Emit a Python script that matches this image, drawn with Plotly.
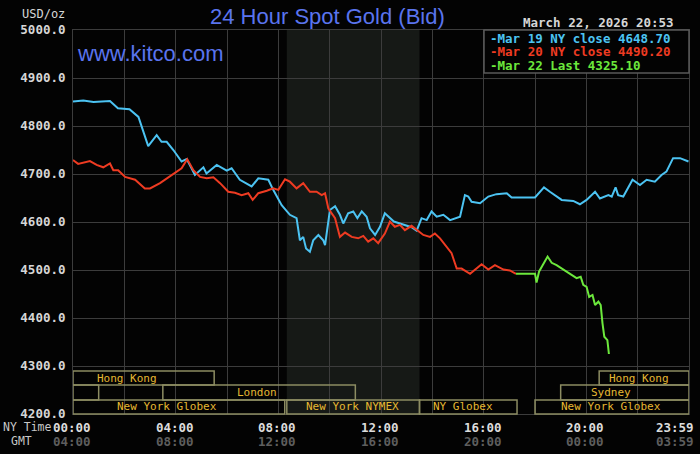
import plotly.graph_objects as go

# hours since 00:00 NY time and bid prices (USD/oz)
blue_h = [0, 0.4, 0.8, 1.2, 1.44, 1.75, 2.2, 2.55, 2.93, 3.26, 3.45, 3.65, 3.91, 4.23, 4.43,
          4.75, 5.08, 5.2, 5.6, 5.99, 6.18, 6.5, 6.96, 7.22, 7.61, 7.8, 8.13, 8.45, 8.71, 8.84,
          8.97, 9.08, 9.23, 9.36, 9.56, 9.75, 9.82, 10.01, 10.21, 10.4, 10.53, 10.72, 10.92, 11.08,
          11.25, 11.44, 11.57, 11.77, 11.96, 12.15, 12.35, 12.5, 12.74, 13.0, 13.19, 13.39, 13.58,
          13.78, 13.97, 14.17, 14.43, 14.69, 14.95, 15.08, 15.27, 15.4, 15.53, 15.86, 16.18, 16.5,
          16.9, 17.09, 18.0, 18.35, 18.58, 19.04, 19.49, 19.75, 20.01, 20.34, 20.53, 20.86, 20.99,
          21.14, 21.24, 21.44, 21.8, 22.09, 22.35, 22.67, 22.93, 23.12, 23.38, 23.65, 23.98]
blue_v = [4851, 4853, 4850, 4852, 4852, 4837, 4835, 4819, 4758, 4781, 4767, 4767, 4750, 4726, 4731,
          4698, 4714, 4701, 4719, 4707, 4712, 4688, 4674, 4691, 4688, 4667, 4635, 4615, 4608, 4562,
          4569, 4545, 4538, 4562, 4573, 4562, 4552, 4625, 4633, 4615, 4597, 4618, 4622, 4608,
          4622, 4611, 4587, 4573, 4590, 4618, 4608, 4601, 4597, 4592, 4589, 4582, 4608,
          4604, 4622, 4611, 4615, 4604, 4608, 4611, 4656, 4653, 4642, 4639, 4653, 4658,
          4660, 4651, 4651, 4672, 4663, 4646, 4644, 4637, 4646, 4663, 4649, 4656, 4653,
          4672, 4656, 4653, 4688, 4677, 4688, 4684, 4698, 4705, 4733, 4733, 4726]

red_h = [0, 0.2, 0.66, 0.92, 1.18, 1.44, 1.57, 1.76, 2.03, 2.42, 2.8, 3.0, 3.39, 3.84, 4.23,
         4.45, 4.69, 4.95, 5.21, 5.47, 5.73, 6.05, 6.31, 6.57, 6.83, 7.0, 7.22, 7.55, 7.8, 8.0,
         8.26, 8.45, 8.71, 8.97, 9.23, 9.49, 9.69, 9.82, 9.95, 10.21, 10.4, 10.6, 10.86, 11.11,
         11.31, 11.5, 11.7, 11.89, 12.15, 12.35, 12.54, 12.74, 12.93, 13.19, 13.39, 13.65, 13.91,
         14.1, 14.3, 14.56, 14.75, 14.88, 14.95, 15.14, 15.47, 15.92, 16.18, 16.44, 16.77, 17.02,
         17.26]
red_v = [4729, 4721, 4727, 4719, 4714, 4722, 4708, 4708, 4694, 4688, 4670, 4670, 4681, 4698, 4712,
         4731, 4708, 4694, 4691, 4693, 4681, 4663, 4661, 4656, 4660, 4646, 4660, 4665, 4670, 4667,
         4689, 4684, 4670, 4681, 4663, 4663, 4656, 4660, 4628, 4608, 4569, 4578, 4569, 4566,
         4571, 4559, 4566, 4556, 4576, 4601, 4590, 4594, 4583, 4592, 4583, 4573, 4569,
         4576, 4566, 4549, 4535, 4514, 4503, 4503, 4492, 4512, 4501, 4510, 4501, 4499,
         4492]

green_h = [17.26, 18.0, 18.06, 18.16, 18.49, 18.65, 18.84, 19.04, 19.23, 19.43, 19.62, 19.78,
           19.88, 20.01, 20.11, 20.24, 20.34, 20.47, 20.56, 20.63, 20.7, 20.82, 20.88]
green_v = [4492, 4492, 4474, 4497, 4528, 4515, 4510, 4503, 4497, 4490, 4483, 4486,
           4469, 4465, 4444, 4448, 4427, 4434, 4427, 4389, 4361, 4354, 4325]

legend_text = ["Mar 19 NY close 4648.70", "Mar 20 NY close 4490.20", "Mar 22 Last 4325.10"]
colors = ["#4cc3f2", "#ee3b22", "#6ce83c"]

ny_hours = [0, 4, 8, 12, 16, 20, 23.98]
ny_labels = ["00:00", "04:00", "08:00", "12:00", "16:00", "20:00", "23:59"]
gmt_labels = ["04:00", "08:00", "12:00", "16:00", "20:00", "00:00", "03:59"]

# trading sessions: (row, start hour, end hour, label, label hour)
sessions = [
    (0, 0, 5.5, "Hong Kong", 2.1),
    (0, 20.5, 24, "Hong Kong", 22.05),
    (1, 0, 1.0, "", 0),
    (1, 3.5, 11.0, "London", 7.15),
    (1, 19.0, 24, "Sydney", 20.97),
    (2, 0, 8.25, "New York Globex", 3.65),
    (2, 8.33, 13.5, "New York NYMEX", 10.89),
    (2, 13.5, 17.3, "NY Globex", 15.19),
    (2, 18.0, 24, "New York Globex", 20.98),
]
nymex_open, nymex_close = 8.33, 13.5

mono = "DejaVu Sans Mono"
W, H, L, R, T, B = 700, 454, 73, 11, 30, 40


def px(x, y):
    # page pixel -> paper coords
    return (x - L) / (W - L - R), (H - B - y) / (H - T - B)


fig = go.Figure()
for h, v, c in [(blue_h, blue_v, colors[0]), (red_h, red_v, colors[1]), (green_h, green_v, colors[2])]:
    fig.add_trace(go.Scatter(x=h, y=v, mode="lines", line=dict(color=c, width=2), hoverinfo="skip"))

shapes = [dict(type="rect", xref="x", yref="paper", x0=nymex_open, x1=nymex_close, y0=0, y1=1,
               fillcolor="#161916", line_width=0, layer="below")]
annos = []
rows = [(0.0755, 0.112), (0.0365, 0.0755), (0.0, 0.0365)]
for row, x0, x1, lab, lx in sessions:
    y0, y1 = rows[row]
    shapes.append(dict(type="rect", xref="x", yref="paper", x0=x0, x1=x1, y0=y0, y1=y1,
                       line=dict(color="#8c8c62", width=1.5), layer="above"))
    if lab:
        annos.append(dict(x=lx, y=(y0 + y1) / 2, xref="x", yref="paper", text=lab, showarrow=False,
                          yanchor="middle", font=dict(family=mono, size=11, color="#e6b832")))

# legend box
bx0, by1 = px(484, 30)
bx1, by0 = px(689, 73)
shapes.append(dict(type="rect", xref="paper", yref="paper", x0=bx0, x1=bx1, y0=by0, y1=by1,
                   fillcolor="#030303", line=dict(color="#5a5a5a", width=1.5), layer="above"))
for i, (t, c) in enumerate(zip(legend_text, colors)):
    lx, ly = px(488, 38 + i * 13.6)
    annos.append(dict(x=lx, y=ly, xref="paper", yref="paper", text="-" + t, showarrow=False,
                      xanchor="left", yanchor="middle",
                      font=dict(family=mono, size=12.5, color=c, weight="bold")))

for h, a, b in zip(ny_hours, ny_labels, gmt_labels):
    shift = -13 if a == "23:59" else -1
    annos.append(dict(x=h, y=px(0, 427)[1], xref="x", yref="paper", text=a, showarrow=False,
                      xshift=shift, yanchor="middle",
                      font=dict(family=mono, size=12.5, color="#dcdcdc", weight="bold")))
    annos.append(dict(x=h, y=px(0, 441)[1], xref="x", yref="paper", text=b, showarrow=False,
                      xshift=shift, yanchor="middle",
                      font=dict(family=mono, size=12.5, color="#5e5e5e", weight="bold")))

extra = [
    (327, 17, "24 Hour Spot Gold (Bid)", dict(family="Liberation Sans", size=22, color="#5a74ee"), "center"),
    (75, 53, "www.kitco.com", dict(family="Liberation Sans", size=22, color="#5a74ee"), "left"),
    (20, 14, "USD/oz", dict(family=mono, size=12, color="#d6d6d6"), "left"),
    (521, 22, "March 22, 2026 20:53", dict(family=mono, size=12.5, color="#d6d6d6", weight="bold"), "left"),
    (1, 427, "NY Time", dict(family=mono, size=11.5, color="#c8c8c8"), "left"),
    (9, 441, "GMT", dict(family=mono, size=11.5, color="#c8c8c8"), "left"),
]
for x, y, t, f, anc in extra:
    xx, yy = px(x, y)
    annos.append(dict(x=xx, y=yy, xref="paper", yref="paper", text=t, showarrow=False,
                      xanchor=anc, yanchor="middle", font=f))

fig.update_layout(
    width=W, height=H,
    margin=dict(l=L, r=R, t=T, b=B),
    paper_bgcolor="#030303", plot_bgcolor="#030303",
    showlegend=False,
    shapes=shapes,
    annotations=annos,
    xaxis=dict(range=[0, 24], dtick=2, tick0=0, showticklabels=False, showgrid=True,
               gridcolor="#3c3c3c", gridwidth=1, zeroline=False, showline=True,
               linecolor="#3c3c3c", mirror=True, ticks=""),
    yaxis=dict(range=[4200, 5000], dtick=100, tickformat=".1f", showgrid=True,
               gridcolor="#3c3c3c", gridwidth=1, zeroline=False, showline=True,
               linecolor="#3c3c3c", mirror=True, ticks="", ticklabelstandoff=4,
               tickfont=dict(family=mono, size=12.5, color="#d6d6d6", weight="bold")),
)

fig.write_html("out.html", config={"displayModeBar": False},
               post_script="document.body.style.margin='0';document.body.style.overflow='hidden';")
